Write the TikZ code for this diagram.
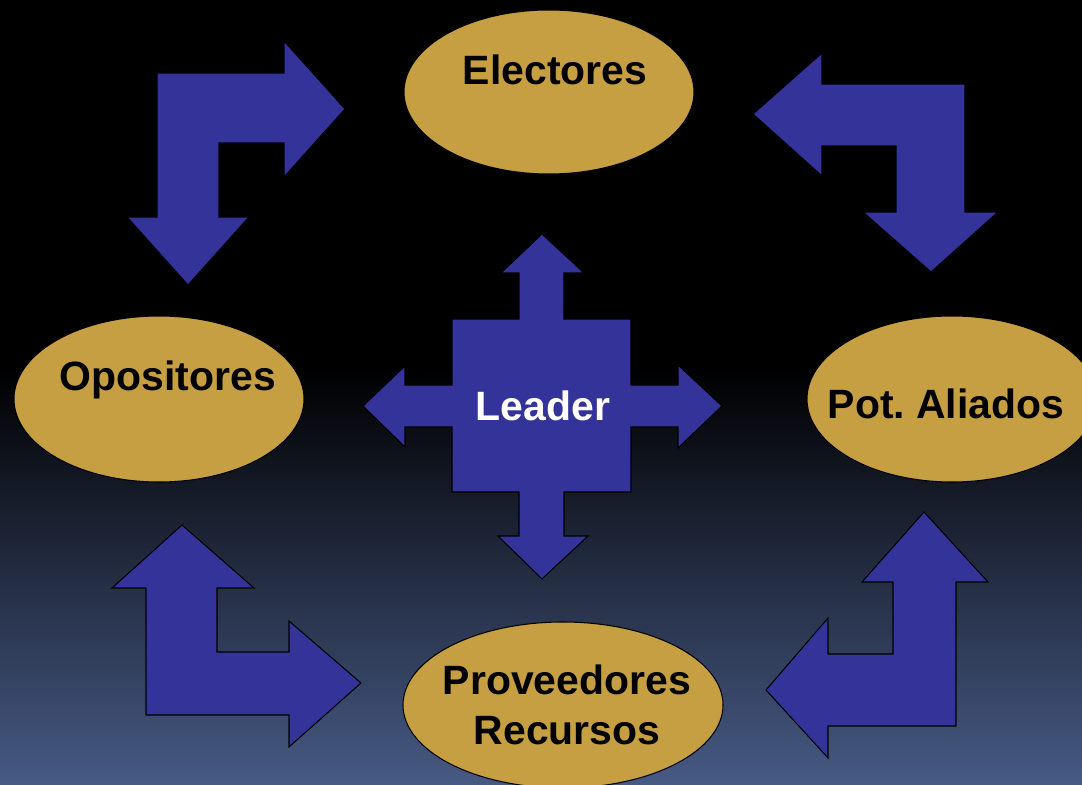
\documentclass[tikz,border=0pt]{standalone}
\usepackage{fontspec}
\setmainfont{Liberation Sans}
\usetikzlibrary{shapes.geometric, positioning}
\definecolor{gold}{HTML}{C69F42}
\definecolor{arrowblue}{HTML}{333399}
\definecolor{bgblue}{HTML}{475A84}
\frenchspacing
\tikzset{
    party/.style={ellipse, draw=black, line width=0.6pt, fill=gold,
                  minimum width=5.8cm, minimum height=3.3cm, inner sep=0pt},
    blockarrow/.style={fill=arrowblue, draw=black, line width=0.6pt, line join=miter},
    lbl/.style={font=\fontsize{23.3}{28.45}\selectfont\bfseries, text=black,
                align=center, inner sep=0pt, anchor=base},
}

\begin{document}
\begin{tikzpicture}[x=0.2mm, y=-0.2mm]

    % background
    \useasboundingbox (0,0) rectangle (1082,785);
    \clip (0,0) rectangle (1082,785);
    \fill[black] (0,0) rectangle (1082,785);
    \shade[top color=black, bottom color=bgblue] (0,370) rectangle (1082,785);

    % actors round the leader
    \node[party, minimum height=3.28cm] (electores) at (549,92) {};
    \node[party, minimum height=3.32cm] (opositores) at (159,399) {};
    \node[party, minimum height=3.32cm] (aliados) at (952,399) {};
    \node[party, minimum width=6.4cm, minimum height=3.32cm] (proveedores) at (563,705) {};

    \node[lbl] (electoresTxt) at (555,85) {Electores};
    \node[lbl] (opositoresTxt) at (168,390) {Opositores};
    \node[lbl] (aliadosTxt) at (946,418) {Pot. Aliados};
    \node[lbl, anchor=center] (proveedoresTxt) at (567,705) {Proveedores\\Recursos};

    % Electores <-> Opositores
    \draw[blockarrow] (157,73) -- (284,73) -- (284,41) -- (345,109) -- (284,177)
        -- (284,143) -- (219,143) -- (219,217) -- (249,217) -- (188,285)
        -- (127,217) -- (157,217) -- cycle;

    % Electores <-> Pot. Aliados
    \draw[blockarrow] (965,84) -- (822,84) -- (822,53) -- (753,114) -- (822,176)
        -- (822,146) -- (896,146) -- (896,212) -- (863,212) -- (931,272)
        -- (998,212) -- (965,212) -- cycle;

    % Opositores <-> Proveedores
    \draw[blockarrow] (146,715) -- (146,588) -- (112,588) -- (182,525) -- (254,588)
        -- (217,588) -- (217,652) -- (289,652) -- (289,621) -- (361,683)
        -- (289,747) -- (289,715) -- cycle;

    % Pot. Aliados <-> Proveedores
    \draw[blockarrow] (956,726) -- (956,582) -- (988,582) -- (924,512) -- (862,582)
        -- (893,582) -- (893,654) -- (828,654) -- (828,618) -- (766,690)
        -- (828,758) -- (828,726) -- cycle;

    % Leader, four ways
    \draw[blockarrow] (452,319) -- (519,319) -- (519,273) -- (501,273) -- (542,234)
        -- (584,273) -- (564,273) -- (564,319) -- (631,319) -- (631,385)
        -- (678,385) -- (678,365) -- (722,406) -- (678,448) -- (678,427)
        -- (631,427) -- (631,492) -- (564,492) -- (564,536) -- (588,536)
        -- (542,579) -- (498,536) -- (519,536) -- (519,492) -- (452,492)
        -- (452,427) -- (405,427) -- (405,447) -- (363,406) -- (405,366)
        -- (405,385) -- (452,385) -- cycle;
    \node[lbl, text=white] (leader) at (543,421) {Leader};

\end{tikzpicture}
\end{document}
